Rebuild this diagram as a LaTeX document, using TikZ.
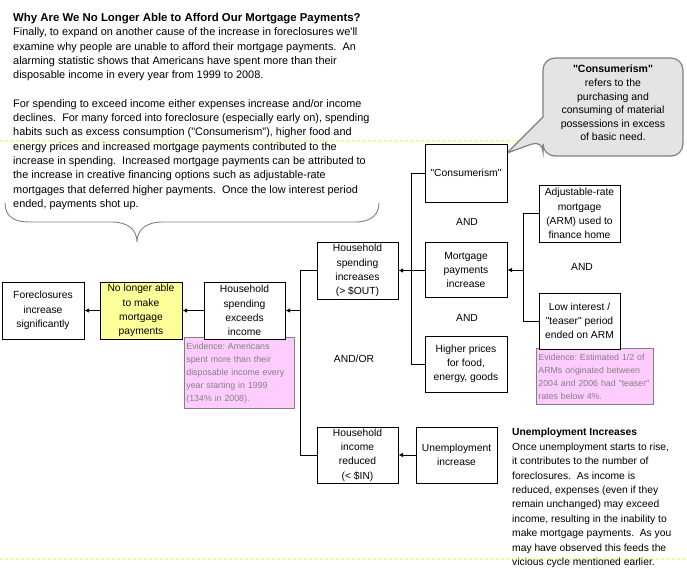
\documentclass[tikz,border=0pt]{standalone}
\usepackage{fontspec}
\setmainfont{Liberation Sans}[Ligatures=TeXOff]
\usetikzlibrary{positioning, arrows.meta, calc, backgrounds}

\definecolor{notepink}{HTML}{FFCCFF}
\definecolor{noteyellow}{HTML}{FFFF99}
\definecolor{notegray}{HTML}{808080}
\definecolor{calloutfill}{HTML}{E4E4E4}

\frenchspacing

\begin{document}
\begin{tikzpicture}[x=1pt, y=-1pt,
  every node/.style={font=\fontsize{10.3}{14.3}\selectfont},
  box/.style={draw, line width=1pt, fill=white, minimum width=82pt, minimum height=57pt,
              inner sep=0pt, align=center},
  evid/.style={draw=notegray, fill=notepink, text=notegray, line width=0.8pt, align=left,
               inner xsep=2pt, inner ysep=2.5pt, anchor=north west, font=\fontsize{8.8}{13}\selectfont},
  arr/.style={-{Latex[length=4.5pt, width=4.5pt]}, line width=0.9pt},
  wire/.style={line width=0.9pt},
  andlbl/.style={font=\fontsize{10.3}{12}\selectfont},
  pagebrk/.style={yellow!60, dotted, line width=1.2pt}
]
\useasboundingbox (0,0) rectangle (687,582);

% ---- Page-break marks ----
\draw[pagebrk] (0,141) -- (687,141);
\draw[pagebrk] (0,559) -- (687,559);

% ---- Intro text and brace ----
\node[anchor=north west, align=left, inner sep=0pt, font=\fontsize{10.9}{14.3}\selectfont] (intro) at (13,13)
  {{\fontsize{11.4}{14.3}\selectfont\bfseries Why Are We No Longer Able to Afford Our Mortgage Payments?}\\
   Finally, to expand on another cause of the increase in foreclosures we'll\\
   examine why people are unable to afford their mortgage payments.\ \ An\\
   alarming statistic shows that Americans have spent more than their\\
   disposable income in every year from 1999 to 2008.\\[14.3pt]
   For spending to exceed income either expenses increase and/or income\\
   declines.\ \ For many forced into foreclosure (especially early on), spending\\
   habits such as excess consumption ("Consumerism"), higher food and\\
   energy prices and increased mortgage payments contributed to the\\
   increase in spending.\ \ Increased mortgage payments can be attributed to\\
   the increase in creative financing options such as adjustable-rate\\
   mortgages that deferred higher payments.\ \ Once the low interest period\\
   ended, payments shot up.};

\draw[notegray, line width=0.9pt]
  (5,203) .. controls (5,215) and (12,222) .. (30,222) -- (112,222)
  .. controls (128,222) and (137,230) .. (137,242)
  .. controls (137,230) and (146,222) .. (162,222) -- (355,222)
  .. controls (372,222) and (379,214) .. (379,203);

% ---- Callout ----
\draw[notegray, fill=calloutfill, line width=1.2pt]
  (543,140) [sharp corners] -- (507,153) -- (543,117)
  [rounded corners=12pt] -- (543,58) -- (683,58) -- (683,156) -- (543,156) -- cycle;
\node[align=center, inner sep=0pt, anchor=north, font=\fontsize{10.5}{13.6}\selectfont] (note) at (613,65)
  {\textbf{"Consumerism"}\\ refers to the\\ purchasing and\\ consuming of material\\
   possessions in excess\\ of basic need.};

% ---- Evidence notes ----
\node[evid, text width=106pt, minimum height=71pt] (ev1) at (184,337)
  {Evidence: Americans\\ spent more than their\\ disposable income every\\
   year starting in 1999\\ (134\% in 2008).};
\node[evid, text width=113pt, minimum height=56pt] (ev2) at (536,348)
  {Evidence: Estimated 1/2 of\\ ARMs originated between\\ 2004 and 2006 had "teaser"\\
   rates below 4\%.};

% ---- Boxes ----
\node[box] (fc) at (43,310.5) {Foreclosures\\ increase\\ significantly};
\node[box, fill=noteyellow, right=15pt of fc] (nla) {No longer able\\ to make\\ mortgage\\ payments};
\node[box, minimum width=81pt, right=21pt of nla] (hse) {Household\\ spending\\ exceeds\\ income};
\node[box, minimum width=81pt] (hsi) at (357.5,270.5) {Household\\ spending\\ increases\\ (> \$OUT)};
\node[box, minimum width=81pt, minimum height=56pt] (hir) at (357.5,455) {Household\\ income\\ reduced\\ (< \$IN)};
\node[box, minimum width=81pt, minimum height=56pt, right=17pt of hir] (une) {Unemployment\\ increase};
\node[box, minimum height=58pt] (cons) at (466,173) {"Consumerism"};
\node[box, minimum height=55pt] (mpi) at (466,270) {Mortgage\\ payments\\ increase};
\node[box, minimum height=56pt] (hpf) at (466,364) {Higher prices\\ for food,\\ energy, goods};
\node[box, minimum width=81pt] (arm) at (579.5,213.5) {Adjustable-rate\\ mortgage\\ (ARM) used to\\ finance home};
\node[box, minimum width=81pt, minimum height=56pt] (lir) at (579.5,321) {Low interest /\\ "teaser" period\\ ended on ARM};

% ---- Labels ----
\node[andlbl] (and1) at (467,222) {AND};
\node[andlbl] (and2) at (467,318) {AND};
\node[andlbl] (and3) at (582,267) {AND};
\node[andlbl] (andor) at (354,359) {AND/OR};

% ---- Connectors ----
\coordinate (busA) at (300,310.5);
\coordinate (busB) at (411,270.5);
\coordinate (busC) at (523,270);

\draw[wire] (hsi.west) -- (hsi.west -| busA) -- (hir.west -| busA) -- (hir.west);
\draw[arr] (busA) -- (hse.east);
\draw[arr] (hse.west) -- (nla.east);
\draw[arr] (nla.west) -- (fc.east);

\draw[wire] (cons.west) -- (cons.west -| busB) -- (hpf.west -| busB) -- (hpf.west);
\draw[wire] (mpi.west) -- (mpi.west -| busB);
\draw[arr] (busB) -- (hsi.east);

\draw[wire] (arm.west) -- (arm.west -| busC) -- (lir.west -| busC) -- (lir.west);
\draw[arr] (busC) -- (mpi.east);

\draw[arr] (une.west) -- (hir.east);

% ---- Unemployment note ----
\node[anchor=north west, align=left, inner sep=0pt, font=\fontsize{10.3}{14.45}\selectfont] (unemp) at (512,428)
  {\textbf{Unemployment Increases}\\
   Once unemployment starts to rise,\\
   it contributes to the number of\\
   foreclosures.\ \ As income is\\
   reduced, expenses (even if they\\
   remain unchanged) may exceed\\
   income, resulting in the inability to\\
   make mortgage payments.\ \ As you\\
   may have observed this feeds the\\
   vicious cycle mentioned earlier.};

\end{tikzpicture}
\end{document}
